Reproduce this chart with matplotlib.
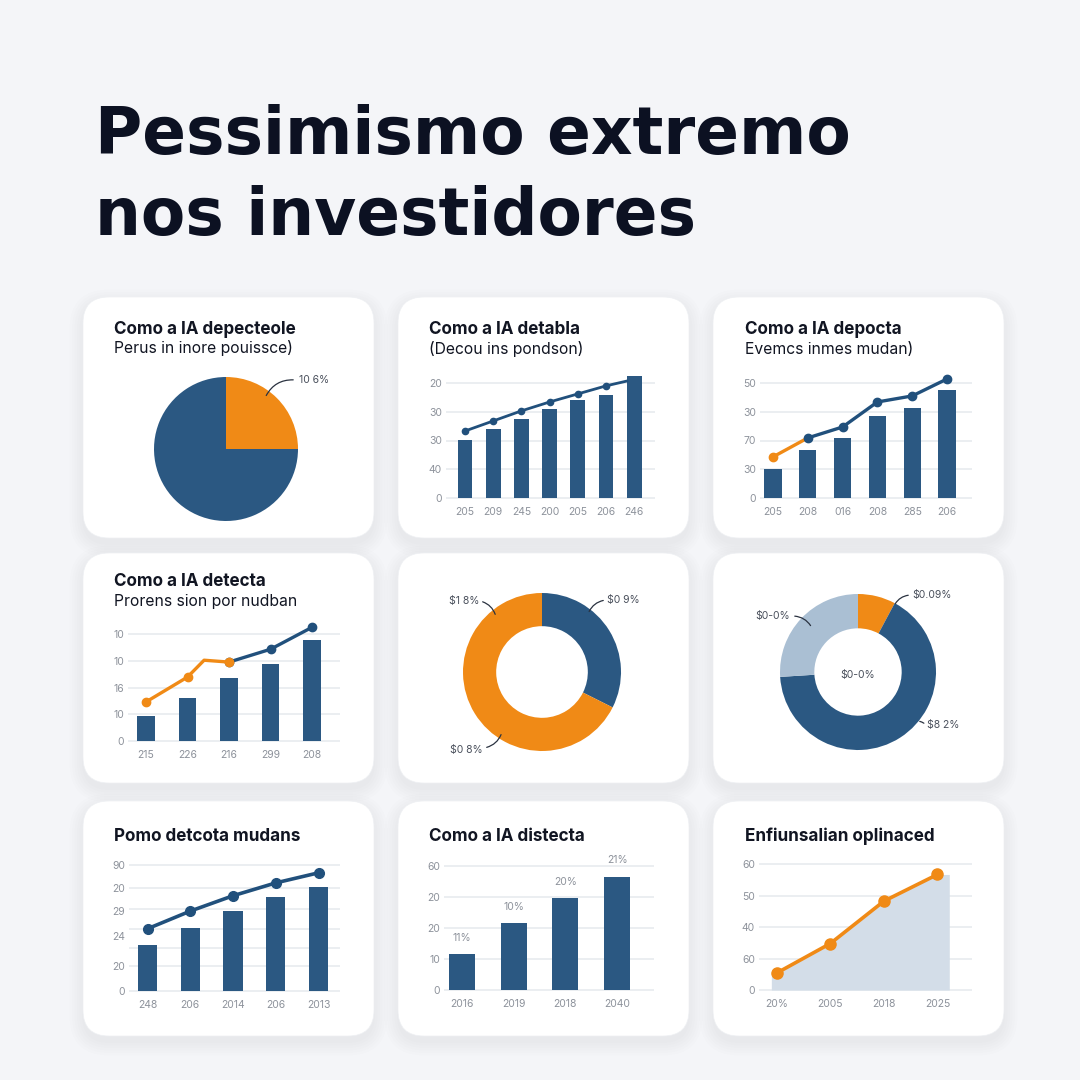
import matplotlib
matplotlib.use('Agg')
import matplotlib.pyplot as plt
from matplotlib.patches import FancyBboxPatch

W = H = 1080
NAVY = '#2b5882'
LINE_NAVY = '#21507c'
ORANGE = '#f08a16'
LIGHT = '#aabfd3'
AREA = '#d3dde8'
GRID = '#e6e9ee'
TICK = '#8d929b'
BG = '#f4f5f8'
DARK = '#0c1122'
TXT = '#111522'

plt.rcParams['font.family'] = ['Inter', 'DejaVu Sans']

# ---------------- data ----------------
title_lines = ["Pessimismo extremo", "nos investidores"]

p1_title = "Como a IA depecteole"
p1_sub = "Perus in inore pouissce)"
p1_values = [25, 75]
p1_label = "10 6%"

p2_title = "Como a IA detabla"
p2_sub = "(Decou ins pondson)"
p2_years = ["205", "209", "245", "200", "205", "206", "246"]
p2_bars = [2.02, 2.40, 2.75, 3.10, 3.40, 3.58, 4.24]
p2_line_x = [0, 1, 2, 3, 4, 5, 5.75]
p2_line = [2.33, 2.68, 3.03, 3.34, 3.62, 3.90, 4.07]
p2_ticks = ["0", "40", "30", "30", "20"]

p3_title = "Como a IA depocta"
p3_sub = "Evemcs inmes mudan)"
p3_years = ["205", "208", "016", "208", "285", "206"]
p3_bars = [1.00, 1.67, 2.09, 2.85, 3.13, 3.76]
p3_line = [1.43, 2.09, 2.47, 3.34, 3.55, 4.14]
p3_ticks = ["0", "30", "70", "30", "50"]

p4_title = "Como a IA detecta"
p4_sub = "Prorens sion por nudban"
p4_years = ["215", "226", "216", "299", "208"]
p4_bars = [0.93, 1.60, 2.35, 2.87, 3.77]
p4_orange_x = [0, 1, 1.4, 2]
p4_orange = [1.46, 2.39, 3.02, 2.95]
p4_navy_x = [2, 3, 4]
p4_navy = [2.95, 3.43, 4.25]
p4_ticks = ["0", "10", "16", "10", "10"]

p5_values = [32.4, 67.6]
p5_labels = ["$1 8%", "$0 9%", "$0 8%"]

p6_values = [7.8, 66.2, 26.0]
p6_labels = ["$0.09%", "$0-0%", "$0-0%", "$8 2%"]

p7_title = "Pomo detcota mudans"
p7_years = ["248", "206", "2014", "206", "2013"]
p7_bars = [1.84, 2.49, 3.19, 3.74, 4.11]
p7_line = [2.47, 3.17, 3.78, 4.29, 4.69]
p7_tick_vals = [0, 1.0, 2.18, 3.17, 4.1, 5.0]
p7_ticks = ["0", "20", "24", "29", "20", "90"]
p7_grid = [0, 1.0, 1.7, 2.46, 3.25, 4.1, 5.0]

p8_title = "Como a IA distecta"
p8_years = ["2016", "2019", "2018", "2040"]
p8_bars = [1.17, 2.15, 2.96, 3.66]
p8_bar_labels = ["11%", "10%", "20%", "21%"]
p8_ticks = ["0", "10", "20", "20", "60"]

p9_title = "Enfiunsalian oplinaced"
p9_years = ["20%", "2005", "2018", "2025"]
p9_line = [0.54, 1.48, 2.83, 3.68]
p9_ticks = ["0", "60", "40", "50", "60"]

# ---------------- figure ----------------
fig = plt.figure(figsize=(10.8, 10.8), dpi=100, facecolor=BG)

bg = fig.add_axes([0, 0, 1, 1], zorder=-1)
bg.set_xlim(0, W); bg.set_ylim(H, 0); bg.axis('off')
bg.set_facecolor(BG)

ov = fig.add_axes([0, 0, 1, 1], zorder=20)
ov.set_xlim(0, W); ov.set_ylim(H, 0); ov.axis('off')
ov.patch.set_alpha(0)

# title
for i, t in enumerate(title_lines):
    bg.text(95, 154 + i * 81, t, fontsize=46.5, fontweight='bold', color=DARK,
            va='baseline', ha='left', family=['DejaVu Sans'])

cols = [(83, 374), (398, 689), (713, 1004)]
rows = [(297, 538), (553, 783), (801, 1036)]
for (y0, y1) in rows:
    for (x0, x1) in cols:
        for k in range(6):
            e = 1 + k * 2.5
            sh = FancyBboxPatch((x0 - e, y0 - e + 6), x1 - x0 + 2 * e, y1 - y0 + 2 * e,
                                boxstyle=f"round,pad=0,rounding_size={26 + e}",
                                fc='#1d2b45', ec='none', alpha=0.006, zorder=1)
            bg.add_patch(sh)
        card = FancyBboxPatch((x0, y0), x1 - x0, y1 - y0,
                              boxstyle="round,pad=0,rounding_size=26",
                              fc='white', ec='#eef0f3', lw=0.5, zorder=2)
        bg.add_patch(card)


def card_title(x, y, t, sub=None, ysub=None):
    bg.text(x, y, t, fontsize=12.3, fontweight='bold', color=TXT, va='baseline', ha='left', zorder=5)
    if sub:
        bg.text(x, ysub, sub, fontsize=11.3, color=TXT, va='baseline', ha='left', zorder=5)


def px_axes(l, r, top, bottom):
    ax = fig.add_axes([l / W, 1 - bottom / H, (r - l) / W, (bottom - top) / H])
    ax.patch.set_alpha(0)
    return ax


def chart_axes(l, r, base, top, c0, sp, unit, n, years, tick_vals, tick_labels, grid_vals):
    ax = px_axes(l, r, top, base + 3)
    ax.set_xlim((l - c0) / sp, (r - c0) / sp)
    ax.set_ylim(-3 / unit, (base - top) / unit)
    for s in ax.spines.values():
        s.set_visible(False)
    for v in grid_vals:
        ax.axhline(v, color=GRID, lw=1.1, zorder=0)
    ax.set_yticks(tick_vals, tick_labels)
    ax.set_xticks(range(n), years)
    ax.tick_params(length=0, labelsize=7.5, labelcolor=TICK)
    ax.tick_params(axis='y', pad=3)
    ax.tick_params(axis='x', pad=4)
    return ax


# ---- panel 1: pie ----
card_title(114, 334, p1_title, p1_sub, 353)
ax = px_axes(226 - 100, 226 + 100, 449 - 100, 449 + 100)
ax.pie(p1_values, colors=[ORANGE, NAVY], startangle=90, counterclock=False,
       wedgeprops=dict(edgecolor='none'))
ax.set_xlim(-100 / 72, 100 / 72); ax.set_ylim(-100 / 72, 100 / 72)
ov.text(299, 380, p1_label, fontsize=7.5, color='#4a505c', va='center', ha='left')
ov.annotate('', xy=(265, 398), xytext=(296, 380),
            arrowprops=dict(arrowstyle='-', color='#2a3240', lw=0.9,
                            connectionstyle='arc3,rad=0.35'))

# ---- panel 2 ----
card_title(429, 334, p2_title, p2_sub, 354)
ax = chart_axes(446, 655, 498, 370, 465, 28.2, 28.75, len(p2_bars), p2_years,
                range(5), p2_ticks, range(5))
ax.bar(range(len(p2_bars)), p2_bars, width=0.53, color=NAVY, zorder=2)
ax.plot(p2_line_x, p2_line, color=LINE_NAVY, lw=2, marker='o', ms=4.5,
        markevery=list(range(6)), zorder=3, solid_capstyle='round')

# ---- panel 3 ----
card_title(745, 334, p3_title, p3_sub, 354)
ax = chart_axes(760, 972, 498, 370, 773, 34.8, 28.75, len(p3_bars), p3_years,
                range(5), p3_ticks, range(5))
ax.bar(range(len(p3_bars)), p3_bars, width=0.49, color=NAVY, zorder=2)
ax.plot([0, 1], p3_line[:2], color=ORANGE, lw=2.4, zorder=3)
ax.plot(range(1, len(p3_line)), p3_line[1:], color=LINE_NAVY, lw=2.4, marker='o', ms=6, zorder=3)
ax.plot([0], p3_line[:1], color=ORANGE, marker='o', ms=6, ls='none', zorder=4)

# ---- panel 4 ----
card_title(114, 586, p4_title, p4_sub, 606)
ax = chart_axes(128, 340, 741, 615, 146, 41.5, 26.75, len(p4_bars), p4_years,
                range(5), p4_ticks, range(5))
ax.bar(range(len(p4_bars)), p4_bars, width=0.43, color=NAVY, zorder=2)
ax.plot(p4_navy_x, p4_navy, color=LINE_NAVY, lw=2.4, marker='o', ms=6, zorder=3)
ax.plot(p4_orange_x, p4_orange, color=ORANGE, lw=2.4, marker='o', ms=6,
        markevery=[0, 1, 3], zorder=4)

# ---- panel 5: donut ----
ax = px_axes(542 - 110, 542 + 110, 672 - 110, 672 + 110)
ax.pie(p5_values, colors=[NAVY, ORANGE], startangle=90, counterclock=False,
       wedgeprops=dict(width=0.42, edgecolor='none'))
ax.set_xlim(-110 / 79, 110 / 79); ax.set_ylim(-110 / 79, 110 / 79)
ov.text(479, 601, p5_labels[0], fontsize=7.5, color='#4a505c', va='center', ha='right')
ov.annotate('', xy=(496, 617), xytext=(480, 601),
            arrowprops=dict(arrowstyle='-', color='#2a3240', lw=0.9, connectionstyle='arc3,rad=-0.3'))
ov.text(607, 600, p5_labels[1], fontsize=7.5, color='#4a505c', va='center', ha='left')
ov.annotate('', xy=(588, 614), xytext=(606, 600),
            arrowprops=dict(arrowstyle='-', color='#2a3240', lw=0.9, connectionstyle='arc3,rad=0.3'))
ov.text(483, 750, p5_labels[2], fontsize=7.5, color='#4a505c', va='center', ha='right')
ov.annotate('', xy=(502, 732), xytext=(484, 748),
            arrowprops=dict(arrowstyle='-', color='#2a3240', lw=0.9, connectionstyle='arc3,rad=0.3'))

# ---- panel 6: donut ----
ax = px_axes(858 - 110, 858 + 110, 672 - 110, 672 + 110)
ax.pie(p6_values, colors=[ORANGE, NAVY, LIGHT], startangle=90, counterclock=False,
       wedgeprops=dict(width=0.44, edgecolor='none'))
ax.set_xlim(-110 / 78, 110 / 78); ax.set_ylim(-110 / 78, 110 / 78)
ov.text(912, 595, p6_labels[0], fontsize=7.5, color='#4a505c', va='center', ha='left')
ov.annotate('', xy=(894, 606), xytext=(911, 595),
            arrowprops=dict(arrowstyle='-', color='#2a3240', lw=0.9, connectionstyle='arc3,rad=0.3'))
ov.text(790, 616, p6_labels[1], fontsize=7.5, color='#4a505c', va='center', ha='right')
ov.annotate('', xy=(812, 628), xytext=(792, 616),
            arrowprops=dict(arrowstyle='-', color='#2a3240', lw=0.9, connectionstyle='arc3,rad=-0.3'))
ov.text(858, 675, p6_labels[2], fontsize=7.5, color='#4a505c', va='center', ha='center')
ov.text(927, 725, p6_labels[3], fontsize=7.5, color='#4a505c', va='center', ha='left')
ov.annotate('', xy=(917, 721), xytext=(926, 725),
            arrowprops=dict(arrowstyle='-', color='#2a3240', lw=0.9, connectionstyle='arc3,rad=0.2'))

# ---- panel 7 ----
card_title(114, 841, p7_title)
ax = chart_axes(129, 340, 991, 855, 147.5, 42.75, 25.2, len(p7_bars), p7_years,
                p7_tick_vals, p7_ticks, p7_grid)
ax.bar(range(len(p7_bars)), p7_bars, width=0.45, color=NAVY, zorder=2)
ax.plot(range(len(p7_line)), p7_line, color=LINE_NAVY, lw=2.6, marker='o', ms=7, zorder=3)

# ---- panel 8 ----
card_title(429, 841, p8_title)
ax = chart_axes(444, 654, 990, 855, 462, 51.7, 31, len(p8_bars), p8_years,
                range(5), p8_ticks, range(5))
ax.bar(range(len(p8_bars)), p8_bars, width=0.5, color=NAVY, zorder=2)
for i, (v, lab) in enumerate(zip(p8_bars, p8_bar_labels)):
    ax.annotate(lab, (i, v), xytext=(0, 8), textcoords='offset points',
                ha='center', va='bottom', fontsize=7.5, color=TICK)

# ---- panel 9 ----
card_title(745, 841, p9_title)
ax = chart_axes(759, 972, 990, 855, 776.7, 53.6, 31.4, len(p9_line), p9_years,
                range(5), p9_ticks, range(5))
xs = list(range(len(p9_line)))
ax.fill_between([-0.1] + xs + [3.22], [p9_line[0]] + p9_line + [p9_line[-1]],
                0, color=AREA, lw=0, zorder=1)
ax.plot(xs, p9_line, color=ORANGE, lw=2.6, marker='o', ms=8, zorder=3)

fig.savefig('out.png', dpi=100, facecolor=BG)
